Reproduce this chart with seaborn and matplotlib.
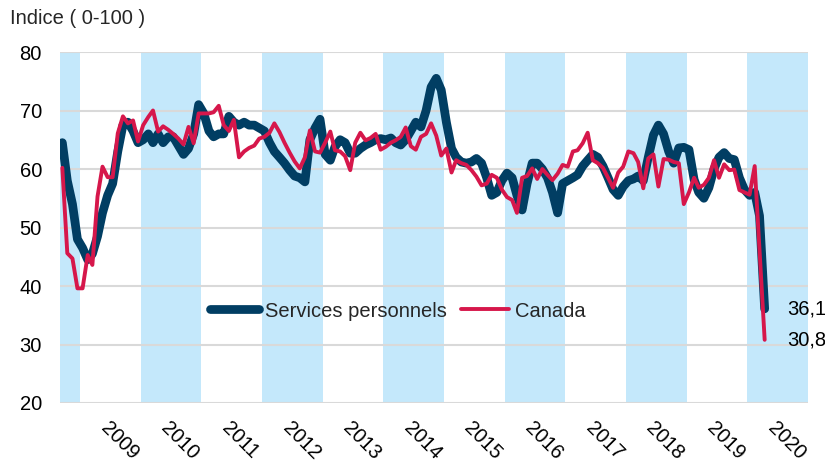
import numpy as np
import pandas as pd
import matplotlib
matplotlib.use("Agg")
import matplotlib.pyplot as plt
import seaborn as sns

# Monthly index values, September 2008 to April 2020
months = pd.date_range("2008-09-01", "2020-04-01", freq="MS")

services = [
    64.5, 58, 54, 48,                                               # 2008 (Sep-Dec)
    46.5, 44.5, 45.5, 48.5, 52.5, 55.5, 57.5, 63, 67.5, 68, 66.5, 64.5,    # 2009
    65, 66, 64.5, 66, 64.5, 65.5, 65.5, 64, 62.5, 63.5, 66, 71,           # 2010
    69.5, 66.5, 65.5, 66, 66, 69, 68, 67.5, 68, 67.5, 67.5, 67,           # 2011
    66.5, 64.5, 63, 62, 61, 59.8, 58.8, 58.5, 57.8, 65, 67, 68.5,         # 2012
    62.5, 61.5, 63.8, 65, 64.5, 62.7, 62.7, 63.5, 64.1, 64.5, 65, 65.2,   # 2013
    65, 65.3, 64.5, 64.1, 65, 66.5, 68, 67.2, 70, 74, 75.5, 73.5,         # 2014
    68, 63.5, 62, 61.2, 61, 61.2, 61.8, 61, 58.5, 55.5, 56, 58,           # 2015
    59.3, 58.5, 55.5, 53, 57.5, 61, 61, 60, 58.5, 56, 52.5, 57.5,         # 2016
    58, 58.5, 59, 60.5, 61.5, 62.5, 62, 60.5, 58.5, 56.5, 55.5, 57,       # 2017
    58, 58.3, 58.8, 58, 62, 65.8, 67.5, 66, 63, 61, 63.6, 63.7,           # 2018
    63.3, 58.2, 56, 55, 56.8, 60, 62, 62.8, 61.8, 61.6, 58.5, 56.5,       # 2019
    55.5, 56, 52, 36.1,                                             # 2020 (Jan-Apr)
]

canada = [
    60.2, 45.6, 44.7, 39.6,
    39.6, 45.3, 43.6, 55.3, 60.4, 58.6, 58.6, 66.1, 69, 67.8, 68.3, 64.7,
    67.5, 68.9, 70, 66.4, 67.3, 66.7, 66, 65.2, 64.2, 67.2, 64.4, 69.5,
    69.5, 69.5, 69.7, 70.8, 67.5, 66.5, 68.4, 62, 63, 63.6, 64, 65.2,
    65.5, 66.2, 67.8, 66.3, 64.5, 62.8, 61.3, 60.1, 62, 66.6, 63, 62.8,
    64.5, 66.4, 63.2, 63, 62.2, 59.8, 64.5, 66.2, 64.9, 65.3, 66, 63.3,
    63.8, 64.5, 64.9, 65.5, 67.1, 63.9, 63.3, 65.5, 66, 67.8, 65.7, 62.3,
    63.5, 59.4, 61.5, 61, 60.7, 59.8, 58.7, 57.2, 57.5, 59, 58.5, 56.5,
    55.2, 54.7, 52.5, 58.5, 58.8, 60.1, 58.3, 60, 59, 58.1, 59.2, 60.7,
    60.4, 63, 63.2, 64.4, 66.2, 61.5, 61, 60.2, 58.5, 56.8, 59.4, 60.4,
    63, 62.7, 61.2, 56.7, 61.8, 62.5, 57, 61.7, 61.6, 61.2, 61, 54,
    56, 58.5, 56.8, 57.3, 58.5, 61.5, 58.5, 60.8, 59.8, 59.9, 56.4, 56,
    55.6, 60.5, 46, 30.8,
]

years = list(range(2009, 2021))
year_labels = [str(y) for y in years]
shaded_years = list(range(2008, 2021, 2))
end_labels = ["36,1", "30,8"]

NAVY = "#013E63"
CRIMSON = "#D6174B"
BAND = "#C4E8FB"
GRID = "#D9D9D9"

sns.set_style("white")
plt.rcParams["font.family"] = ["Liberation Sans", "DejaVu Sans"]
FS = 14.5

df = pd.DataFrame({
    "mois": months + pd.Timedelta(days=14),
    "Services personnels": services,
    "Canada": canada,
})

fig = plt.figure(figsize=(8.25, 4.62), dpi=100)
ax = fig.add_axes([60 / 825, 1 - 403 / 462, 748 / 825, 351 / 462])

# alternating year bands
for yr in shaded_years:
    ax.axvspan(pd.Timestamp(yr, 1, 1), pd.Timestamp(yr + 1, 1, 1),
               color=BAND, lw=0, zorder=0)

sns.lineplot(data=df, x="mois", y="Services personnels", ax=ax, color=NAVY,
             linewidth=6.3, label="Services personnels",
             solid_capstyle="round", solid_joinstyle="round", zorder=3)
sns.lineplot(data=df, x="mois", y="Canada", ax=ax, color=CRIMSON,
             linewidth=2.8, label="Canada",
             solid_capstyle="round", solid_joinstyle="round", zorder=4)

ax.set_xlim(pd.Timestamp(2008, 9, 1), pd.Timestamp(2021, 1, 1))
ax.set_ylim(20, 80)
ax.set_yticks(range(20, 81, 10))
ax.set_xticks([pd.Timestamp(y, 7, 1) for y in years])
ax.set_xticklabels(year_labels, rotation=-45, ha="left", va="top",
                   rotation_mode="anchor")
ax.set_xlabel("")
ax.set_ylabel("")

ax.yaxis.grid(True, color=GRID, linewidth=1.5)
ax.xaxis.grid(False)
ax.set_axisbelow(True)
for s in ax.spines.values():
    s.set_visible(False)
ax.tick_params(axis="x", length=0, pad=11, labelsize=FS, colors="black")
ax.tick_params(axis="y", length=0, pad=13, labelsize=FS, colors="black")

# last values
last_x = df["mois"].iloc[-1]
for val, txt in zip([services[-1], canada[-1]], end_labels):
    ax.annotate(txt, xy=(last_x, val), xytext=(16, 0),
                textcoords="offset points", ha="left", va="center",
                fontsize=FS, color="black", annotation_clip=False)

ax.legend(loc="center", bbox_to_anchor=(0.452, 0.262), ncol=2,
          frameon=False, fontsize=FS, handlelength=2.4,
          handletextpad=0.3, columnspacing=0.7)

fig.text(10 / 825, 1 - 23.5 / 462, "Indice ( 0-100 )", ha="left",
         va="baseline", fontsize=FS)

fig.savefig("out.png", dpi=100)
